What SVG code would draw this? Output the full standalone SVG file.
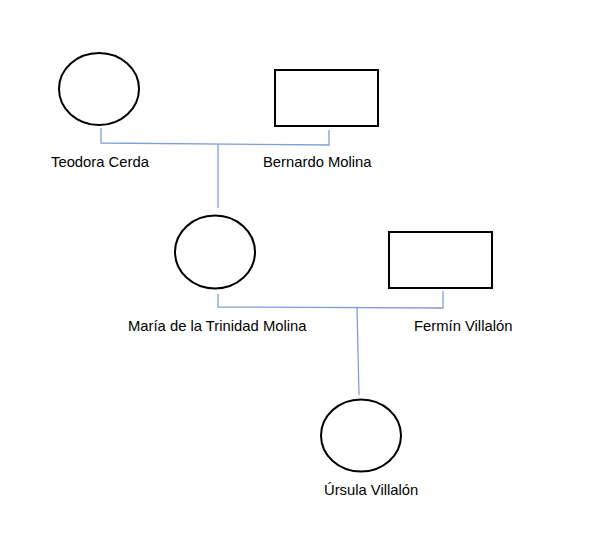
<svg xmlns="http://www.w3.org/2000/svg" width="605" height="546" viewBox="0 0 605 546">
<style>
.shape{fill:#fff;stroke:#000;stroke-width:2}
.conn{fill:none;stroke:#7f9fd9;stroke-width:1.3}
.lbl{font-family:"Liberation Sans",Arial,sans-serif;font-size:14.8px;fill:#000}
</style>
<rect width="605" height="546" fill="#fff"/>
<g id="connectors">
<polyline class="conn" points="101,128 101,143 329,145 329,130"/>
<line class="conn" x1="218" y1="144" x2="218" y2="208"/>
<polyline class="conn" points="218,294 218,307 443,308 443,291"/>
<line class="conn" x1="357" y1="308" x2="359" y2="395"/>
</g>
<g id="teodora">
<ellipse class="shape" cx="99" cy="89" rx="40" ry="36"/>
<text class="lbl" x="51" y="167">Teodora Cerda</text>
</g>
<g id="bernardo">
<rect class="shape" x="275" y="70" width="103" height="56"/>
<text class="lbl" x="263" y="167">Bernardo Molina</text>
</g>
<g id="maria">
<ellipse class="shape" cx="215" cy="252" rx="40" ry="36.5"/>
<text class="lbl" x="128" y="331">María de la Trinidad Molina</text>
</g>
<g id="fermin">
<rect class="shape" x="389" y="232" width="103" height="56"/>
<text class="lbl" x="414" y="331">Fermín Villalón</text>
</g>
<g id="ursula">
<ellipse class="shape" cx="361" cy="435.5" rx="40" ry="36"/>
<text class="lbl" x="324" y="495">Úrsula Villalón</text>
</g>
</svg>
